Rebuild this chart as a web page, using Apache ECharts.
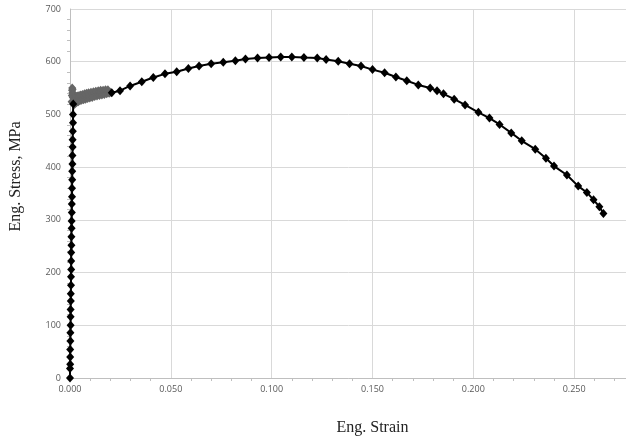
<!DOCTYPE html>
<html>
<head>
<meta charset="utf-8">
<script src="https://cdn.jsdelivr.net/npm/echarts@6/dist/echarts.min.js"></script>
<style>
  html, body { margin: 0; padding: 0; background: #fff; }
  #chart { width: 626px; height: 443px; }
</style>
</head>
<body>
<div id="chart"></div>
<script>
// elastic part (black)
var elasticStrain = [0.0000, 0.0000, 0.0001, 0.0001, 0.0001, 0.0002, 0.0002, 0.0003, 0.0003, 0.0003, 0.0004, 0.0004, 0.0005, 0.0005, 0.0006, 0.0006, 0.0006, 0.0007, 0.0007, 0.0008, 0.0008, 0.0009, 0.0009, 0.0010, 0.0010, 0.0011, 0.0011, 0.0012, 0.0012, 0.0013, 0.0013, 0.0014, 0.0015, 0.0015, 0.0016]
var elasticStress = [0, 18, 26, 40, 54, 70, 86, 100, 116, 130, 146, 160, 176, 192, 206, 222, 238, 252, 268, 284, 298, 314, 330, 344, 360, 376, 392, 406, 422, 438, 452, 468, 484, 500, 520]

// yield band (grey), noisy Lüders plateau
var yieldStrain = [0.0008, 0.0009, 0.0010, 0.0011, 0.0012, 0.0013, 0.0014, 0.0016, 0.0018, 0.0020, 0.0022, 0.0025, 0.0028, 0.0031, 0.0034, 0.0037, 0.0041, 0.0045, 0.0049, 0.0053, 0.0057, 0.0062, 0.0067, 0.0072, 0.0077, 0.0082, 0.0087, 0.0092, 0.0098, 0.0104, 0.0110, 0.0116, 0.0122, 0.0128, 0.0134, 0.0140, 0.0146, 0.0152, 0.0158, 0.0164, 0.0170, 0.0176, 0.0182, 0.0188, 0.0194, 0.0200]
var yieldStress = [524, 536, 546, 550, 541, 548, 532, 540, 522, 533, 519, 530, 521, 534, 523, 535, 524, 536, 526, 537, 527, 538, 528, 539, 529, 540, 530, 541, 531, 542, 532, 543, 534, 544, 535, 545, 536, 546, 537, 546, 538, 547, 539, 547, 540, 542]

// hardening + necking (black)
var mainStrain = [0.0207, 0.0248, 0.0298, 0.0356, 0.0413, 0.0471, 0.0529, 0.0587, 0.0640, 0.0700, 0.0760, 0.0820, 0.0870, 0.0930, 0.0987, 0.1045, 0.1100, 0.1160, 0.1226, 0.1270, 0.1330, 0.1386, 0.1443, 0.1500, 0.1560, 0.1616, 0.1670, 0.1727, 0.1786, 0.1820, 0.1852, 0.1905, 0.1959, 0.2025, 0.2080, 0.2130, 0.2188, 0.2240, 0.2307, 0.2360, 0.2400, 0.2464, 0.2520, 0.2563, 0.2596, 0.2625, 0.2645]
var mainStress = [541, 545, 554, 562, 570, 577, 581, 587, 592, 596, 599, 602, 605, 607, 608, 609, 609, 608, 607, 604, 601, 596, 592, 585, 579, 571, 564, 556, 550, 545, 539, 529, 518, 504, 493, 481, 465, 450, 434, 417, 402, 385, 364, 352, 338, 325, 312]

function pairs(xs, ys) {
  var out = []
  for (var i = 0; i < xs.length; i++) out.push([xs[i], ys[i]])
  return out
}

var chart = echarts.init(document.getElementById('chart'))
var labelStyle = { color: '#595959', fontSize: 9, fontFamily: 'Open Sans' }
var titleStyle = { color: '#222', fontSize: 16, fontFamily: 'Liberation Serif' }

chart.setOption({
  animation: false,
  // plot runs past the right edge, like the cropped original
  grid: { left: 70, top: 9, width: 605, height: 369, outerBoundsMode: 'none', containLabel: false },
  xAxis: {
    type: 'value', min: 0, max: 0.3, interval: 0.05,
    name: 'Eng. Strain', nameLocation: 'middle', nameGap: 42,
    nameTextStyle: titleStyle,
    axisLine: { show: true, lineStyle: { color: '#bfbfbf' } },
    axisTick: { show: false },
    minorTick: { show: true, splitNumber: 5, length: 3, lineStyle: { color: '#bfbfbf' } },
    splitLine: { show: true, lineStyle: { color: '#d9d9d9' } },
    axisLabel: Object.assign({ margin: 7, formatter: function (v) { return v.toFixed(3) } }, labelStyle)
  },
  yAxis: {
    type: 'value', min: 0, max: 700, interval: 100,
    name: 'Eng. Stress, MPa', nameLocation: 'middle', nameGap: 46,
    nameTextStyle: Object.assign({ padding: [0, 0, 0, 34] }, titleStyle),
    axisLine: { show: true, lineStyle: { color: '#bfbfbf' } },
    axisTick: { show: false },
    minorTick: { show: true, splitNumber: 5, length: 3, lineStyle: { color: '#bfbfbf' } },
    splitLine: { show: true, lineStyle: { color: '#d9d9d9' } },
    axisLabel: Object.assign({ margin: 9 }, labelStyle)
  },
  series: [
    {
      type: 'line', data: pairs(elasticStrain, elasticStress),
      symbol: 'diamond', symbolSize: [8, 9], showAllSymbol: true,
      lineStyle: { color: '#000', width: 2 },
      itemStyle: { color: '#000' }, z: 3
    },
    {
      type: 'line', data: pairs(yieldStrain, yieldStress),
      symbol: 'diamond', symbolSize: [8, 9], showAllSymbol: true,
      lineStyle: { color: '#666', width: 2 },
      itemStyle: { color: '#666' }, z: 2
    },
    {
      type: 'line', data: pairs(mainStrain, mainStress),
      symbol: 'diamond', symbolSize: [8, 9], showAllSymbol: true,
      lineStyle: { color: '#000', width: 2 },
      itemStyle: { color: '#000' }, z: 3
    }
  ]
})
</script>
</body>
</html>
